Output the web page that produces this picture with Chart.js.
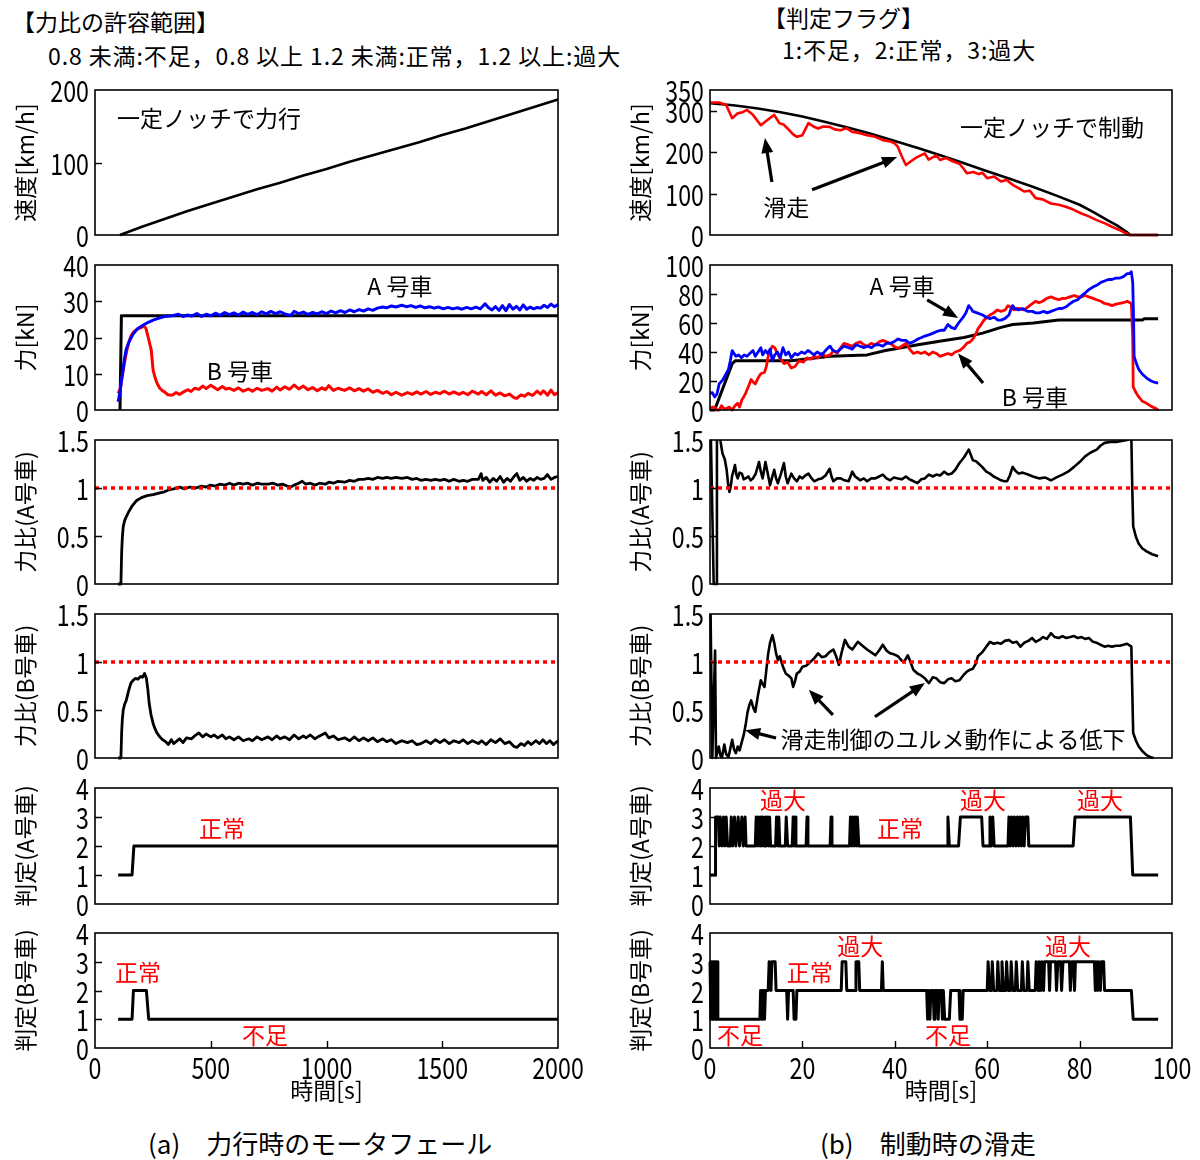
<!DOCTYPE html>
<html>
<head>
<meta charset="utf-8">
<script src="https://cdn.jsdelivr.net/npm/chart.js@4.4.1/dist/chart.umd.min.js"></script>
<style>
  html, body { margin: 0; padding: 0; background: #fff; }
  #page {
    position: relative; width: 1200px; height: 1160px; overflow: hidden;
    font-family: "Noto Sans CJK JP", sans-serif; color: #000;
  }
  #page canvas { position: absolute; }
  .txt { position: absolute; white-space: nowrap; font-size: 23px; line-height: 1; }
  .wide { letter-spacing: 0.9px; }
  .cap { font-size: 26px; }
</style>
</head>
<body>
<div id="page">
  <div class="txt" style="left:12px;top:10px">【力比の許容範囲】</div>
  <div class="txt wide" style="left:48px;top:44px">0.8 未満:不足，0.8 以上 1.2 未満:正常，1.2 以上:過大</div>
  <div class="txt" style="left:763px;top:6px">【判定フラグ】</div>
  <div class="txt wide" style="left:782px;top:38px">1:不足，2:正常，3:過大</div>
  <div class="txt cap" style="left:148px;top:1130px">(a)　力行時のモータフェール</div>
  <div class="txt cap" style="left:820px;top:1130px">(b)　制動時の滑走</div>
</div>
<script>
(function(Chart) {
  'use strict';

  // ---- tick labels ----
  var aTimeTicks   = [0, 500, 1000, 1500, 2000];
  var bTimeTicks   = [0, 20, 40, 60, 80, 100];
  var aSpeedTicks  = [0, 100, 200];
  var bSpeedTicks  = [0, 100, 200, 300, 350];
  var aForceTicks  = [0, 10, 20, 30, 40];
  var bForceTicks  = [0, 20, 40, 60, 80, 100];
  var ratioTicks   = [0, 0.5, 1, 1.5];
  var flagTicks    = [0, 1, 2, 3, 4];
  var ratioLimit   = 1.0;

  // ---- (a) powering, motor failure: [time s, value] ----
  var aSpeed = [[108,0],[200,11],[300,22],[400,33],[500,43],[600,53],[700,63],[800,72],[900,82],[1000,91],[1100,101],
    [1200,110],[1300,119],[1400,128],[1500,138],[1600,147],[1700,157],[1800,167],[1900,177],[2000,187]];

  var aForceCmd = [[108,0],[112,0],[114,26],[2000,26]];

  var aForceA = [[100,2.3],[108,5],[115,8.5],[119,10],[127,14],[135,16.8],[151,19.3],[165,21],[185,22.5],[205,23.3],
    [230,24.2],[251,24.8],[270,25.2],[300,25.8],[334,26],[360,26.4],[380,25.8],[400,26.2],[417,25.9],[440,26.6],
    [460,25.8],[480,26.4],[500,26],[520,26.7],[540,26.1],[560,26.9],[580,26.3],[600,26.8],[620,26.2],[640,27],
    [660,26.4],[680,26.9],[700,26.3],[720,27.1],[740,26.5],[760,27.2],[780,26.6],[800,27.1],[820,26.5],[846,26.1],
    [860,27.2],[880,26.6],[900,27],[920,26.4],[940,26.9],[960,26.5],[980,27.1],[1000,26.6],[1020,27.3],[1040,26.8],
    [1060,27.4],[1080,26.9],[1100,27.6],[1120,27.1],[1140,27.7],[1160,27.3],[1180,27.9],[1200,27.5],[1220,28.1],
    [1243,28.4],[1260,28.2],[1280,28.7],[1300,28.4],[1325,28.9],[1345,28.5],[1365,28.8],[1385,28.3],[1405,28.7],
    [1425,28.2],[1445,28.5],[1465,28.1],[1485,28.4],[1505,27.9],[1525,28.3],[1545,27.9],[1565,28.2],[1585,27.8],
    [1605,28.3],[1625,27.9],[1645,28.4],[1665,27.9],[1685,29.3],[1700,28.2],[1715,27.6],[1730,28.5],[1745,27.5],
    [1760,28.8],[1775,27.4],[1790,29.1],[1805,27.8],[1820,28.6],[1835,27.6],[1850,29],[1865,27.8],[1880,28.4],
    [1895,27.9],[1910,28.3],[1925,28.1],[1940,28.9],[1955,28.3],[1970,29.2],[1985,28.5],[2000,29.1]];

  var aForceB = [[100,4.6],[110,6],[119,10],[130,14],[144,18.4],[156,20.5],[168,21.6],[185,22.4],[201,22.8],[212,23.2],
    [220,22.5],[230,20],[243,16.5],[251,11],[260,8.8],[268,7.4],[280,6],[290,5.4],[300,5],[315,4.2],[334,4.1],[350,4.8],
    [365,4.3],[383,5],[400,5.6],[415,5.1],[430,6],[449,5.7],[465,6.6],[480,5.9],[500,6.8],[515,6.2],[530,5.6],[550,6.5],
    [565,5.8],[581,6],[600,5.4],[620,6.1],[640,5.2],[664,5.8],[680,5.2],[700,6],[720,5.4],[747,5.9],[765,5.2],[785,6.3],
    [800,5.5],[820,6.4],[840,5.7],[860,6.9],[880,5.8],[900,6.6],[920,5.6],[940,6.2],[960,5.3],[980,6.1],[995,5.6],
    [1010,6.7],[1030,5.4],[1050,6],[1078,5.4],[1100,6.1],[1120,5.3],[1140,5.9],[1160,5.2],[1180,5.8],[1200,4.9],
    [1220,5.4],[1243,4.6],[1260,5.1],[1280,4.2],[1300,4.9],[1325,4.1],[1350,4.8],[1370,4.3],[1390,5],[1408,4.4],
    [1430,5.1],[1450,4.3],[1470,4.9],[1490,4.5],[1510,5.2],[1530,4.4],[1550,5],[1573,4.3],[1590,4.9],[1610,4.2],
    [1630,5.2],[1656,4.4],[1670,5.1],[1690,4.2],[1710,5.3],[1730,4.1],[1750,4.7],[1770,3.9],[1790,4.4],[1810,3.4],
    [1822,3.2],[1840,4.2],[1855,3.8],[1871,4.6],[1890,4],[1910,5.2],[1925,4.4],[1937,5.3],[1955,4.1],[1970,5.5],
    [1985,4.2],[2000,4.8]];

  var aRatioA = [[100,0],[112,0],[115,0.32],[118,0.48],[122,0.6],[128,0.66],[135,0.7],[145,0.75],[160,0.81],[180,0.87],
    [201,0.9],[225,0.92],[251,0.93],[280,0.95],[300,0.96],[317,0.98],[340,0.99],[367,1.01],[385,0.99],[410,1.01],
    [436,1.0],[460,1.02],[480,1.01],[499,1.03],[520,1.02],[540,1.04],[560,1.03],[581,1.05],[600,1.03],[620,1.05],
    [640,1.04],[660,1.05],[680,1.03],[700,1.05],[720,1.04],[747,1.04],[770,1.05],[790,1.03],[810,1.04],[830,1.02],
    [846,1.01],[860,1.03],[880,1.05],[895,1.07],[910,1.04],[930,1.05],[950,1.03],[970,1.05],[995,1.04],[1010,1.06],
    [1030,1.05],[1050,1.07],[1078,1.06],[1100,1.08],[1120,1.07],[1140,1.09],[1160,1.09],[1180,1.1],[1200,1.09],
    [1220,1.11],[1243,1.1],[1260,1.11],[1280,1.1],[1300,1.11],[1325,1.1],[1350,1.11],[1370,1.09],[1390,1.1],
    [1408,1.08],[1430,1.09],[1450,1.08],[1470,1.09],[1490,1.08],[1510,1.09],[1530,1.07],[1550,1.09],[1573,1.07],
    [1590,1.08],[1610,1.07],[1630,1.09],[1656,1.09],[1668,1.15],[1675,1.08],[1690,1.11],[1705,1.06],[1720,1.1],
    [1735,1.07],[1750,1.12],[1765,1.06],[1780,1.1],[1795,1.07],[1810,1.12],[1822,1.15],[1835,1.08],[1850,1.11],
    [1865,1.07],[1880,1.1],[1895,1.08],[1910,1.11],[1925,1.09],[1940,1.1],[1954,1.14],[1970,1.09],[1985,1.11],[2000,1.12]];

  var aRatioB = [[100,0],[112,0],[115,0.26],[118,0.4],[122,0.5],[128,0.56],[135,0.6],[145,0.7],[155,0.78],[165,0.81],
    [175,0.83],[185,0.82],[197,0.85],[205,0.84],[214,0.88],[222,0.83],[228,0.72],[234,0.57],[242,0.45],[251,0.36],
    [260,0.3],[268,0.26],[280,0.22],[292,0.19],[305,0.17],[317,0.14],[330,0.19],[340,0.15],[350,0.17],[365,0.2],
    [380,0.16],[395,0.21],[417,0.2],[430,0.23],[449,0.26],[465,0.22],[480,0.25],[500,0.22],[515,0.24],[530,0.21],
    [550,0.24],[565,0.2],[581,0.22],[600,0.19],[620,0.22],[640,0.18],[664,0.2],[680,0.18],[700,0.22],[720,0.19],
    [747,0.22],[765,0.19],[785,0.23],[800,0.2],[820,0.22],[840,0.19],[860,0.24],[880,0.2],[900,0.23],[912,0.21],
    [930,0.24],[950,0.2],[970,0.23],[995,0.26],[1010,0.21],[1030,0.23],[1050,0.19],[1078,0.21],[1100,0.18],
    [1120,0.22],[1140,0.18],[1160,0.21],[1180,0.18],[1200,0.21],[1220,0.17],[1243,0.2],[1260,0.17],[1280,0.19],
    [1300,0.15],[1325,0.18],[1350,0.16],[1370,0.18],[1390,0.14],[1408,0.15],[1430,0.18],[1450,0.15],[1470,0.19],
    [1490,0.16],[1510,0.19],[1530,0.15],[1550,0.18],[1573,0.16],[1590,0.19],[1610,0.15],[1630,0.18],[1656,0.15],
    [1670,0.18],[1690,0.14],[1710,0.19],[1730,0.16],[1750,0.2],[1770,0.15],[1790,0.17],[1810,0.12],[1822,0.11],
    [1840,0.15],[1855,0.13],[1870,0.17],[1885,0.14],[1904,0.18],[1920,0.15],[1935,0.19],[1950,0.15],[1965,0.18],
    [1980,0.14],[2000,0.18]];

  var aFlagA = [[100,1],[160,1],[168,2],[2000,2]];
  var aFlagB = [[100,1],[160,1],[166,2],[222,2],[232,1],[2000,1]];

  // ---- (b) braking, wheel slide: [time s, value] ----
  var bSpeedBody = [[0,318],[5,313],[10,306],[15,297],[20,286],[25,273],[30,259],[35,244],[40,227],[45,210],[50,192],
    [55,173],[60,154],[65,135],[70,116],[75,95],[80,73],[83,55],[86,36],[88,24],[90,9],[91,0],[97,0]];

  var bSpeedWheel = [[0,320],[2,320],[3.5,314],[4.8,282],[6,294],[7,296],[8,302],[9.3,290],[11,265],[12.5,278],[13.9,290],
    [15,270],[16,266],[16.8,257],[18,243],[18.8,237],[20,241],[21.3,270],[22.4,262],[23.4,257],[24.5,262],[25.9,261],
    [27,255],[28.3,253],[29.5,258],[30.8,249],[32,247],[34,241],[35.5,238],[37.4,229],[39,226],[40,221],[40.7,212],
    [41.5,190],[42.4,169],[43.5,178],[44.5,186],[46.5,197],[47.3,182],[48,186],[49,192],[49.8,181],[51,186],[52.5,178],
    [54,172],[54.8,161],[55.6,149],[57,152],[58.2,147],[59,150],[60,137],[61.5,141],[63,129],[64.2,133],[65.5,121],
    [67,112],[68,105],[69.2,107],[70.5,89],[72,86],[73.8,76],[75.5,73],[77,68],[78.5,62],[80.4,52],[82,45],[83.7,36],
    [85.5,28],[87,20],[89,10],[90.7,0],[97,0]];

  var bForceCmd = [[0,0],[1,0],[4.8,32],[5.5,34],[17.6,34],[26,37],[34,38],[38,41],[45,45],[50.7,48],[55,50],[59,53],
    [63,57],[65.5,59],[70,60],[75.5,62],[93.6,62],[94,63],[97,63]];

  var bForceA = [[0,11.5],[0.5,12],[1,9],[1.5,11],[2,18],[2.8,21],[3.5,25],[4,28],[4.4,34],[4.8,41],[5.2,39],[5.6,37],
    [6.2,38],[6.8,36],[7.4,38],[8,37],[8.6,39],[9.3,41],[9.8,37],[10.4,40],[11,43],[11.4,38],[12,41],[12.5,39],[13,42],
    [13.5,34],[14,38],[14.6,40],[15.2,36],[15.8,43],[16.4,38],[17,40],[17.6,36],[18.4,39],[19,38],[19.8,40],[20.5,39],
    [21.2,41],[21.7,40],[22.5,38],[23.2,40],[24.2,38],[25,41],[25.6,43],[26,44],[26.6,41],[27.5,40],[28.2,42],[29,44],
    [30,43],[30.8,42],[31.6,45],[32.5,44],[33.3,43],[34,44],[35,43],[35.8,45],[36.6,45],[37.4,44],[38.2,46],[39,46],
    [39.8,47],[40.7,49],[41.5,48],[42.4,48],[43.2,46],[44,47],[45,49],[45.8,50],[46.5,51],[47.5,52],[48.3,53],[49,54],
    [50,55],[50.7,55],[51.5,59],[52.2,57],[53,56],[53.8,60],[54.8,64],[55.4,67],[56,72],[56.5,70],[56.9,68],[57.8,67],
    [59,65.5],[59.8,64],[60.6,63],[61.5,64],[62.3,62],[63,62],[63.8,63],[64.7,65.5],[65.2,70],[65.5,72],[66,70],
    [66.8,69],[67.6,70],[68.8,68],[69.8,68],[70.5,67],[71.3,67],[72.2,68],[73,67],[73.8,68],[74.6,69],[75.5,70],
    [76.2,70],[77,71],[77.8,73],[78.7,75],[79.6,76],[80.5,79],[81.3,81],[82,83],[83,85],[83.7,86],[84.6,88],[85.4,89],
    [86.2,90],[87,90],[87.9,91],[88.7,91],[89.5,92],[90.3,94],[90.8,94],[91.2,95.4],[91.5,88],[91.7,60],[91.8,37],
    [92.3,32],[92.8,28],[93.5,25],[94.5,22],[95.5,20],[96.3,19],[97,18.5]];

  var bForceB = [[0,1],[0.5,2],[1,2],[1.5,0],[2,0],[2.5,3],[3,1],[3.5,1],[4.2,2],[4.8,0],[5.4,3],[6,4.6],[6.4,2],[6.9,7],
    [7.3,9],[7.7,11.5],[8.3,16],[8.9,21],[9.4,19],[9.8,18],[10.4,22],[11,25],[11.8,26],[12.2,30],[12.6,37],[13,41],
    [13.5,44],[14,43],[14.3,41],[15.1,36],[15.6,34],[16,32],[16.8,33],[17.6,29],[18.4,30],[19.3,34],[20.2,33],[21,36],
    [21.8,35],[22.6,37],[23.4,36],[24.2,39],[25,37],[26,38],[26.8,41],[27.5,39],[28.3,43],[29,46],[30,45],[30.8,44],
    [31.6,46],[32.5,47],[33.3,45],[34,44],[34.9,46],[35.8,45],[36.6,47],[37.4,48],[38.2,47],[39,46],[39.8,44],
    [40.7,42.5],[41.5,44],[42.4,46],[43.2,42],[44,39],[44.9,40],[45.7,39],[46.5,40],[47.4,38],[48.2,40],[49,39],
    [49.8,37],[50.7,38],[51.5,39],[52.3,38],[53.1,40],[54,41],[54.8,43],[55.6,46],[56.3,47],[56.9,49],[57.5,52],[58,56],
    [58.7,59],[59.3,62],[60,64],[60.6,65.5],[61.4,67],[62.2,69],[63,68],[63.9,69],[64.5,72],[65,71],[65.8,69],[66.4,70],
    [67,70],[67.9,69],[68.8,71],[69.6,73],[70.5,75],[71.2,74],[72,75],[72.9,77],[73.8,78],[74.6,77],[75.5,76],[76.3,77],
    [77,77],[77.9,78],[78.8,79],[79.6,78],[80.4,78],[81.2,79],[82,78],[82.9,77],[83.7,76],[84.6,75],[85.4,73.5],[86.2,73],
    [87,72],[87.9,73],[88.7,73.5],[89.5,74],[90.3,75],[91.2,73.5],[91.5,50],[91.6,16],[92.2,12],[92.8,9],[93.6,6],
    [94.5,4.6],[95.5,2.5],[96.5,1],[97,0]];

  var bRatioA = [[0,2],[0.8,0],[1.3,0],[1.5,2],[2.3,1.48],[2.7,1.36],[3.2,1.3],[3.6,1.19],[3.9,1.05],[4.2,0.96],[4.5,1.02],
    [4.8,1.13],[5.1,1.18],[5.4,1.24],[5.7,1.14],[6,1.1],[6.4,1.16],[6.9,1.15],[7.3,1.09],[7.7,1.1],[8.3,1.12],[8.8,1.08],
    [9.3,1.1],[9.9,1.15],[10.6,1.27],[11,1.17],[11.4,1.1],[12,1.27],[12.5,1.15],[13,1.03],[13.5,1.12],[13.9,1.19],
    [14.3,1.1],[14.7,1.05],[15.3,1.14],[16,1.26],[16.4,1.12],[16.8,1.05],[17.2,1.1],[17.6,1.15],[18.2,1.1],[18.8,1.07],
    [19.4,1.12],[20,1.1],[20.6,1.13],[21.3,1.15],[22,1.1],[22.6,1.07],[23.4,1.09],[24.2,1.1],[25,1.13],[25.9,1.2],
    [26.3,1.12],[26.7,1.07],[27.5,1.1],[28.3,1.1],[29.1,1.08],[30,1.07],[30.4,1.12],[30.8,1.17],[31.4,1.12],[32,1.1],
    [32.5,1.08],[33.3,1.1],[34,1.07],[34.9,1.1],[35.8,1.1],[36.6,1.12],[37.4,1.14],[38.2,1.1],[39,1.08],[39.8,1.11],
    [40.7,1.1],[41.5,1.09],[42.4,1.12],[43.2,1.09],[44.1,1.07],[44.9,1.05],[45.7,1.09],[46.5,1.1],[47.4,1.14],[48.2,1.12],
    [49,1.14],[49.8,1.13],[50.7,1.17],[51.5,1.14],[52.3,1.15],[53.1,1.19],[54,1.26],[55,1.32],[56,1.4],[56.5,1.34],
    [56.9,1.29],[57.5,1.28],[58,1.26],[58.9,1.22],[59.8,1.17],[60.6,1.15],[61.4,1.12],[62.2,1.1],[63,1.08],[63.7,1.07],
    [64.3,1.07],[64.9,1.13],[65.5,1.22],[66.1,1.18],[66.8,1.15],[67.7,1.16],[68.8,1.14],[69.9,1.12],[71.3,1.1],
    [72.5,1.11],[73.8,1.08],[75,1.11],[76.3,1.14],[77.5,1.17],[78.8,1.22],[80,1.27],[81.2,1.33],[82.4,1.37],[83.7,1.4],
    [84.5,1.44],[85.4,1.47],[86.6,1.48],[87.9,1.48],[89.1,1.49],[90.3,1.5],[91.2,1.53],[91.4,1.0],[91.6,0.6],
    [92.2,0.49],[92.8,0.42],[93.6,0.37],[94.5,0.34],[95.7,0.31],[97,0.29]];

  var bRatioB = [[0,2],[0.5,0],[0.8,0.6],[1.1,1.12],[1.3,0],[1.9,0.12],[2.3,0.02],[2.6,0.01],[3.1,0.14],[3.5,0.04],
    [4,0.01],[4.4,0.1],[4.8,0.19],[5.2,0.09],[5.6,0.05],[6,0.12],[6.4,0.08],[6.9,0.17],[7.3,0.24],[7.7,0.34],[8.1,0.47],
    [8.5,0.55],[8.9,0.6],[9.4,0.52],[9.8,0.48],[10.4,0.66],[11,0.81],[11.4,0.77],[11.8,0.74],[12.2,0.92],[12.6,1.09],
    [13,1.2],[13.5,1.28],[13.9,1.2],[14.3,1.09],[14.7,1.02],[15.1,1.06],[15.8,0.95],[16.4,0.88],[17.2,0.85],[17.6,0.83],
    [18,0.74],[18.4,0.8],[18.8,0.88],[19.4,0.9],[20,0.95],[20.8,0.96],[21.7,1.0],[22.6,1.04],[23.4,1.09],[24.2,1.05],
    [25,1.06],[25.8,1.1],[26.7,1.13],[27.3,1.06],[27.9,0.97],[28.5,1.1],[29.2,1.23],[30,1.16],[30.8,1.13],[31.4,1.17],
    [32,1.21],[33,1.17],[34,1.13],[34.9,1.1],[35.8,1.07],[36.6,1.12],[37.4,1.18],[38.2,1.12],[39,1.09],[39.8,1.08],
    [40.7,1.06],[41.4,1.02],[42,1.0],[42.8,1.07],[43.4,1.0],[44,0.92],[44.9,0.88],[45.7,0.86],[46.5,0.83],[47.4,0.78],
    [48.2,0.84],[49,0.83],[49.8,0.79],[50.7,0.78],[51.5,0.82],[52.3,0.83],[53.1,0.8],[54,0.81],[54.8,0.86],[55.6,0.9],
    [56.3,0.92],[56.9,0.93],[57.5,0.98],[58,1.06],[58.9,1.1],[59.8,1.16],[60.6,1.21],[61.4,1.19],[62.2,1.2],[63,1.19],
    [63.8,1.22],[64.7,1.23],[65.5,1.2],[66.4,1.21],[67.2,1.16],[68,1.2],[68.9,1.22],[69.7,1.25],[70.5,1.21],[71.3,1.23],
    [72.1,1.26],[72.9,1.24],[73.8,1.3],[74.6,1.26],[75.5,1.25],[76.3,1.27],[77.1,1.25],[78,1.26],[78.8,1.27],[79.6,1.25],
    [80.4,1.26],[81.2,1.24],[82,1.25],[82.9,1.21],[83.7,1.2],[84.5,1.18],[85.4,1.16],[86.2,1.17],[87,1.16],[87.9,1.17],
    [88.7,1.17],[89.5,1.18],[90.3,1.19],[91.2,1.16],[91.4,0.7],[91.6,0.26],[92.2,0.18],[92.8,0.12],[93.6,0.07],
    [94.5,0.03],[95.3,0.01],[96,0]];

  var bFlagA = [[0,1],[1.1,1],[1.2,3],[1.8,3],[2,2],[2.2,3],[2.6,2],[2.9,3],[3.2,2],[3.5,3],[3.8,2],[4.4,2],[4.6,3],
    [4.9,2],[5.3,3],[5.6,2],[6.1,3],[6.4,2],[6.9,3],[7.2,2],[7.6,3],[7.8,2],[9.8,2],[10,3],[10.3,2],[10.5,3],[10.8,2],
    [11,3],[11.2,2],[11.4,3],[11.7,2],[11.9,3],[12.2,2],[12.4,3],[12.7,2],[12.9,3],[13.1,2],[14.2,2],[14.4,3],[14.7,2],
    [14.9,3],[15.1,2],[16.3,2],[16.5,3],[16.8,2],[17.8,2],[18,3],[18.2,2],[18.4,3],[18.6,2],[20.8,2],[21,3],[21.2,2],
    [26,2],[26.2,3],[26.4,2],[30.2,2],[30.4,3],[30.7,2],[30.9,3],[31.2,2],[31.4,3],[31.7,2],[31.9,3],[32.2,2],[51.3,2],
    [51.5,3],[51.8,2],[53.8,2],[54.2,3],[58.8,3],[59.1,2],[60.4,2],[60.6,3],[60.9,2],[61.2,3],[61.5,2],[64.5,2],
    [64.7,3],[65,2],[65.3,3],[65.6,2],[65.9,3],[66.2,2],[66.5,3],[66.8,2],[67.1,3],[67.4,2],[67.7,3],[68,2],[68.3,3],
    [68.8,3],[69,2],[78.6,2],[79,3],[91,3],[91.5,1],[97,1]];

  var bFlagB = [[0,3],[0.2,1],[0.35,3],[0.5,1],[0.65,3],[0.8,1],[0.95,3],[1.1,1],[1.25,3],[1.4,1],[1.55,3],[1.7,1],
    [10.8,1],[10.95,2],[11.1,1],[11.3,2],[11.45,1],[11.6,2],[11.8,1],[12,2],[12.6,2],[12.8,3],[13.2,2],[13.4,3],[14.1,3],
    [14.3,2],[16.6,2],[16.8,1],[17,2],[18,2],[18.2,1],[18.6,1],[18.8,2],[28.4,2],[28.6,3],[29.4,3],[29.6,2],[31.4,2],
    [31.6,3],[32.2,3],[32.4,2],[37.1,2],[37.3,3],[37.5,2],[46.9,2],[47.1,1],[47.3,2],[47.6,1],[47.8,2],[48.3,2],[48.5,1],
    [48.7,2],[49.2,2],[49.4,1],[49.6,2],[50.1,2],[50.3,1],[50.5,2],[50.8,1],[51.8,1],[52.1,2],[53.9,2],[54.1,1],[54.6,1],
    [54.8,2],[60,2],[60.2,3],[60.5,2],[60.9,2],[61.1,3],[61.4,2],[62.1,2],[62.3,3],[62.6,2],[63,2],[63.2,3],[63.5,2],
    [64,2],[64.2,3],[64.5,2],[65,2],[65.2,3],[65.5,2],[66.1,2],[66.3,3],[66.6,2],[67.4,2],[67.6,3],[67.9,2],[68.6,2],
    [68.8,3],[69.1,2],[70.4,2],[70.6,3],[71,2],[71.2,3],[71.6,2],[71.8,3],[72.2,2],[72.4,3],[73.3,3],[73.5,2],[73.7,3],
    [74.8,3],[75,2],[75.3,3],[75.9,3],[76.1,2],[76.4,3],[77.8,3],[78,2],[78.3,3],[78.7,3],[78.9,2],[79.1,3],[83.2,3],
    [83.4,2],[83.6,3],[83.9,2],[84.1,3],[84.5,2],[84.7,3],[85.2,3],[85.4,2],[91.2,2],[91.6,1],[97,1]];

  // ---- drawing ----
  var FONT  = '"Noto Sans CJK JP", sans-serif';
  var TICK_FONT = '29px ' + FONT;
  var SQUEEZE = 0.8;          // the figure uses a condensed face for numbers
  var BLACK = '#000000';
  var RED   = '#ff0000';
  var BLUE  = '#0000ff';
  var YAXIS_W = 95;

  Chart.defaults.font.family = FONT;
  Chart.defaults.color = BLACK;

  var columns = {
    a: { left: 95,  right: 558,  ticks: aTimeTicks },
    b: { left: 710, right: 1172, ticks: bTimeTicks }
  };
  var rows = [
    { top: 90,  bottom: 235 },
    { top: 265, bottom: 410 },
    { top: 440, bottom: 584 },
    { top: 614, bottom: 758 },
    { top: 788, bottom: 904 },
    { top: 933, bottom: 1048 }
  ];

  var page = document.getElementById('page');

  function toPoints(pairs) {
    return pairs.map(function(p) { return { x: p[0], y: p[1] }; });
  }

  function fixedTicks(values) {
    return function(scale) {
      scale.ticks = values.map(function(v) { return { value: v }; });
    };
  }

  function line(pairs, color, width, dash) {
    return {
      data: toPoints(pairs),
      borderColor: color,
      borderWidth: width || 2.6,
      borderDash: dash || [],
      borderJoinStyle: 'round',
      pointRadius: 0,
      tension: 0,
      fill: false,
      clip: { left: 2, right: 2, top: 0, bottom: 3 }
    };
  }

  function limitLine(ticks) {
    return line([[ticks[0], ratioLimit], [ticks[ticks.length - 1], ratioLimit]], RED, 3.5, [4, 4]);
  }

  function drawArrow(ctx, x1, y1, x2, y2) {
    var ang = Math.atan2(y2 - y1, x2 - x1);
    var head = 15, half = 6;
    var c = Math.cos(ang), s = Math.sin(ang);
    ctx.beginPath();
    ctx.moveTo(x1, y1);
    ctx.lineTo(x2 - c * head * 0.8, y2 - s * head * 0.8);
    ctx.lineWidth = 3.2;
    ctx.stroke();
    ctx.beginPath();
    ctx.moveTo(x2, y2);
    ctx.lineTo(x2 - c * head + s * half, y2 - s * head - c * half);
    ctx.lineTo(x2 - c * head - s * half, y2 - s * head + c * half);
    ctx.closePath();
    ctx.fill();
  }

  function squeezedText(ctx, text, x, y) {
    ctx.save();
    ctx.translate(x, y);
    ctx.scale(SQUEEZE, 1);
    ctx.fillText(text, 0, 0);
    ctx.restore();
  }

  // frame, inward tick marks, tick labels, notes and arrows for one panel
  function makeDecor(spec) {
    return {
      id: 'panelDecor',
      afterDatasetsDraw: function(chart) {
        var ctx = chart.ctx, area = chart.chartArea;
        var xs = chart.scales.x, ys = chart.scales.y;
        var xt = columns[spec.col].ticks;
        var tl = 7;
        ctx.save();
        ctx.strokeStyle = BLACK;
        ctx.fillStyle = BLACK;
        ctx.lineWidth = 1.6;
        ctx.strokeRect(area.left, area.top, area.right - area.left, area.bottom - area.top);

        ctx.beginPath();
        spec.yTicks.slice(1, -1).forEach(function(v) {
          var y = Math.round(ys.getPixelForValue(v)) + 0.5;
          ctx.moveTo(area.left, y);
          ctx.lineTo(area.left + tl, y);
        });
        if (spec.bottom) {
          xt.slice(1, -1).forEach(function(v) {
            var x = Math.round(xs.getPixelForValue(v)) + 0.5;
            ctx.moveTo(x, area.bottom);
            ctx.lineTo(x, area.bottom - tl);
          });
        }
        ctx.lineWidth = 1.4;
        ctx.stroke();

        // tick labels
        ctx.font = TICK_FONT;
        ctx.textBaseline = 'middle';
        ctx.textAlign = 'right';
        spec.yTicks.forEach(function(v) {
          squeezedText(ctx, String(v), area.left - 6, ys.getPixelForValue(v) + 1);
        });
        if (spec.bottom) {
          ctx.textAlign = 'center';
          xt.forEach(function(v) {
            squeezedText(ctx, String(v), xs.getPixelForValue(v), area.bottom + 20);
          });
        }

        ctx.font = '23px ' + FONT;
        (spec.notes || []).forEach(function(n) {
          ctx.fillStyle = n.color || BLACK;
          ctx.textAlign = n.align || 'center';
          ctx.fillText(n.text, xs.getPixelForValue(n.x), ys.getPixelForValue(n.y));
        });

        ctx.fillStyle = BLACK;
        ctx.strokeStyle = BLACK;
        (spec.arrows || []).forEach(function(a) {
          drawArrow(ctx,
            xs.getPixelForValue(a[0][0]), ys.getPixelForValue(a[0][1]),
            xs.getPixelForValue(a[1][0]), ys.getPixelForValue(a[1][1]));
        });
        ctx.restore();
      }
    };
  }

  function addPanel(spec) {
    var col = columns[spec.col], row = rows[spec.row];
    var plotW = col.right - col.left, plotH = row.bottom - row.top;
    var padTop = 30, padRight = 40;
    var padBottom = spec.bottom ? 20 : 30;
    var axisH = spec.bottom ? 60 : 0;
    var w = YAXIS_W + plotW + padRight;
    var h = padTop + plotH + axisH + padBottom;

    var canvas = document.createElement('canvas');
    canvas.width = w;
    canvas.height = h;
    canvas.style.left = (col.left - YAXIS_W) + 'px';
    canvas.style.top = (row.top - padTop) + 'px';
    canvas.style.width = w + 'px';
    canvas.style.height = h + 'px';
    page.appendChild(canvas);

    new Chart(canvas, {
      type: 'line',
      data: { datasets: spec.series },
      options: {
        responsive: false,
        animation: false,
        devicePixelRatio: 1,
        layout: { padding: { left: 0, right: padRight, top: padTop, bottom: padBottom } },
        plugins: { legend: { display: false }, tooltip: { enabled: false } },
        scales: {
          x: {
            type: 'linear',
            display: !!spec.bottom,
            min: col.ticks[0],
            max: col.ticks[col.ticks.length - 1],
            afterBuildTicks: fixedTicks(col.ticks),
            afterFit: function(s) { s.height = axisH; },
            grid: { display: false, drawTicks: false },
            border: { display: false },
            ticks: { display: false },
            title: {
              display: !!spec.bottom, text: '時間[s]', color: BLACK,
              font: { family: FONT, size: 23 }, padding: { top: 0, bottom: 4 }
            }
          },
          y: {
            type: 'linear',
            min: spec.yTicks[0],
            max: spec.yTicks[spec.yTicks.length - 1],
            afterBuildTicks: fixedTicks(spec.yTicks),
            afterFit: function(s) { s.width = YAXIS_W; },
            grid: { display: false, drawTicks: false },
            border: { display: false },
            ticks: { display: false },
            title: {
              display: true, text: spec.yTitle, color: BLACK,
              font: { family: FONT, size: 23 }, padding: { top: 11, bottom: 0 }
            }
          }
        }
      },
      plugins: [makeDecor(spec)]
    });
  }

  var panels = [
    { col: 'a', row: 0, yTicks: aSpeedTicks, yTitle: '速度[km/h]',
      series: [line(aSpeed, BLACK)],
      notes: [{ text: '一定ノッチで力行', x: 95, y: 161, align: 'left' }] },
    { col: 'b', row: 0, yTicks: bSpeedTicks, yTitle: '速度[km/h]',
      series: [line(bSpeedWheel, RED), line(bSpeedBody, BLACK)],
      notes: [{ text: '一定ノッチで制動', x: 54.1, y: 261, align: 'left' },
              { text: '滑走', x: 16.5, y: 68 }],
      arrows: [[[13.4, 128], [11.9, 234]], [[22.1, 109], [40.5, 188]]] },

    { col: 'a', row: 1, yTicks: aForceTicks, yTitle: '力[kN]',
      series: [line(aForceA, BLUE, 3), line(aForceB, RED, 3), line(aForceCmd, BLACK, 3)],
      notes: [{ text: 'A 号車', x: 1317, y: 34 }, { text: 'B 号車', x: 626, y: 10.8 }] },
    { col: 'b', row: 1, yTicks: bForceTicks, yTitle: '力[kN]',
      series: [line(bForceA, BLUE, 2.8), line(bForceB, RED, 2.8), line(bForceCmd, BLACK, 3)],
      notes: [{ text: 'A 号車', x: 41.6, y: 85 }, { text: 'B 号車', x: 70.3, y: 9 }],
      arrows: [[[47, 76], [53.7, 63.5]], [[59.1, 18.6], [53.7, 39]]] },

    { col: 'a', row: 2, yTicks: ratioTicks, yTitle: '力比(A号車)',
      series: [limitLine(aTimeTicks), line(aRatioA, BLACK, 2.8)] },
    { col: 'b', row: 2, yTicks: ratioTicks, yTitle: '力比(A号車)',
      series: [limitLine(bTimeTicks), line(bRatioA, BLACK)] },

    { col: 'a', row: 3, yTicks: ratioTicks, yTitle: '力比(B号車)',
      series: [limitLine(aTimeTicks), line(aRatioB, BLACK, 2.8)] },
    { col: 'b', row: 3, yTicks: ratioTicks, yTitle: '力比(B号車)',
      series: [limitLine(bTimeTicks), line(bRatioB, BLACK)],
      notes: [{ text: '滑走制御のユルメ動作による低下', x: 52.6, y: 0.2 }],
      arrows: [[[14.3, 0.208], [7.6, 0.29]], [[26.6, 0.45], [21.4, 0.71]], [[35.7, 0.43], [46.5, 0.78]]] },

    { col: 'a', row: 4, yTicks: flagTicks, yTitle: '判定(A号車)',
      series: [line(aFlagA, BLACK, 3)],
      notes: [{ text: '正常', x: 549, y: 2.62, color: RED }] },
    { col: 'b', row: 4, yTicks: flagTicks, yTitle: '判定(A号車)',
      series: [line(bFlagA, BLACK, 3)],
      notes: [{ text: '過大', x: 15.8, y: 3.59, color: RED }, { text: '過大', x: 59.1, y: 3.59, color: RED },
              { text: '過大', x: 84.4, y: 3.59, color: RED }, { text: '正常', x: 41.1, y: 2.62, color: RED }] },

    { col: 'a', row: 5, bottom: true, yTicks: flagTicks, yTitle: '判定(B号車)',
      series: [line(aFlagB, BLACK, 3)],
      notes: [{ text: '正常', x: 186, y: 2.64, color: RED }, { text: '不足', x: 734, y: 0.45, color: RED }] },
    { col: 'b', row: 5, bottom: true, yTicks: flagTicks, yTitle: '判定(B号車)',
      series: [line(bFlagB, BLACK, 3)],
      notes: [{ text: '過大', x: 32.5, y: 3.55, color: RED }, { text: '過大', x: 77.5, y: 3.55, color: RED },
              { text: '正常', x: 21.6, y: 2.64, color: RED }, { text: '不足', x: 6.5, y: 0.45, color: RED },
              { text: '不足', x: 51.5, y: 0.45, color: RED }] }
  ];

  panels.forEach(addPanel);

}(Chart));
</script>
</body>
</html>
